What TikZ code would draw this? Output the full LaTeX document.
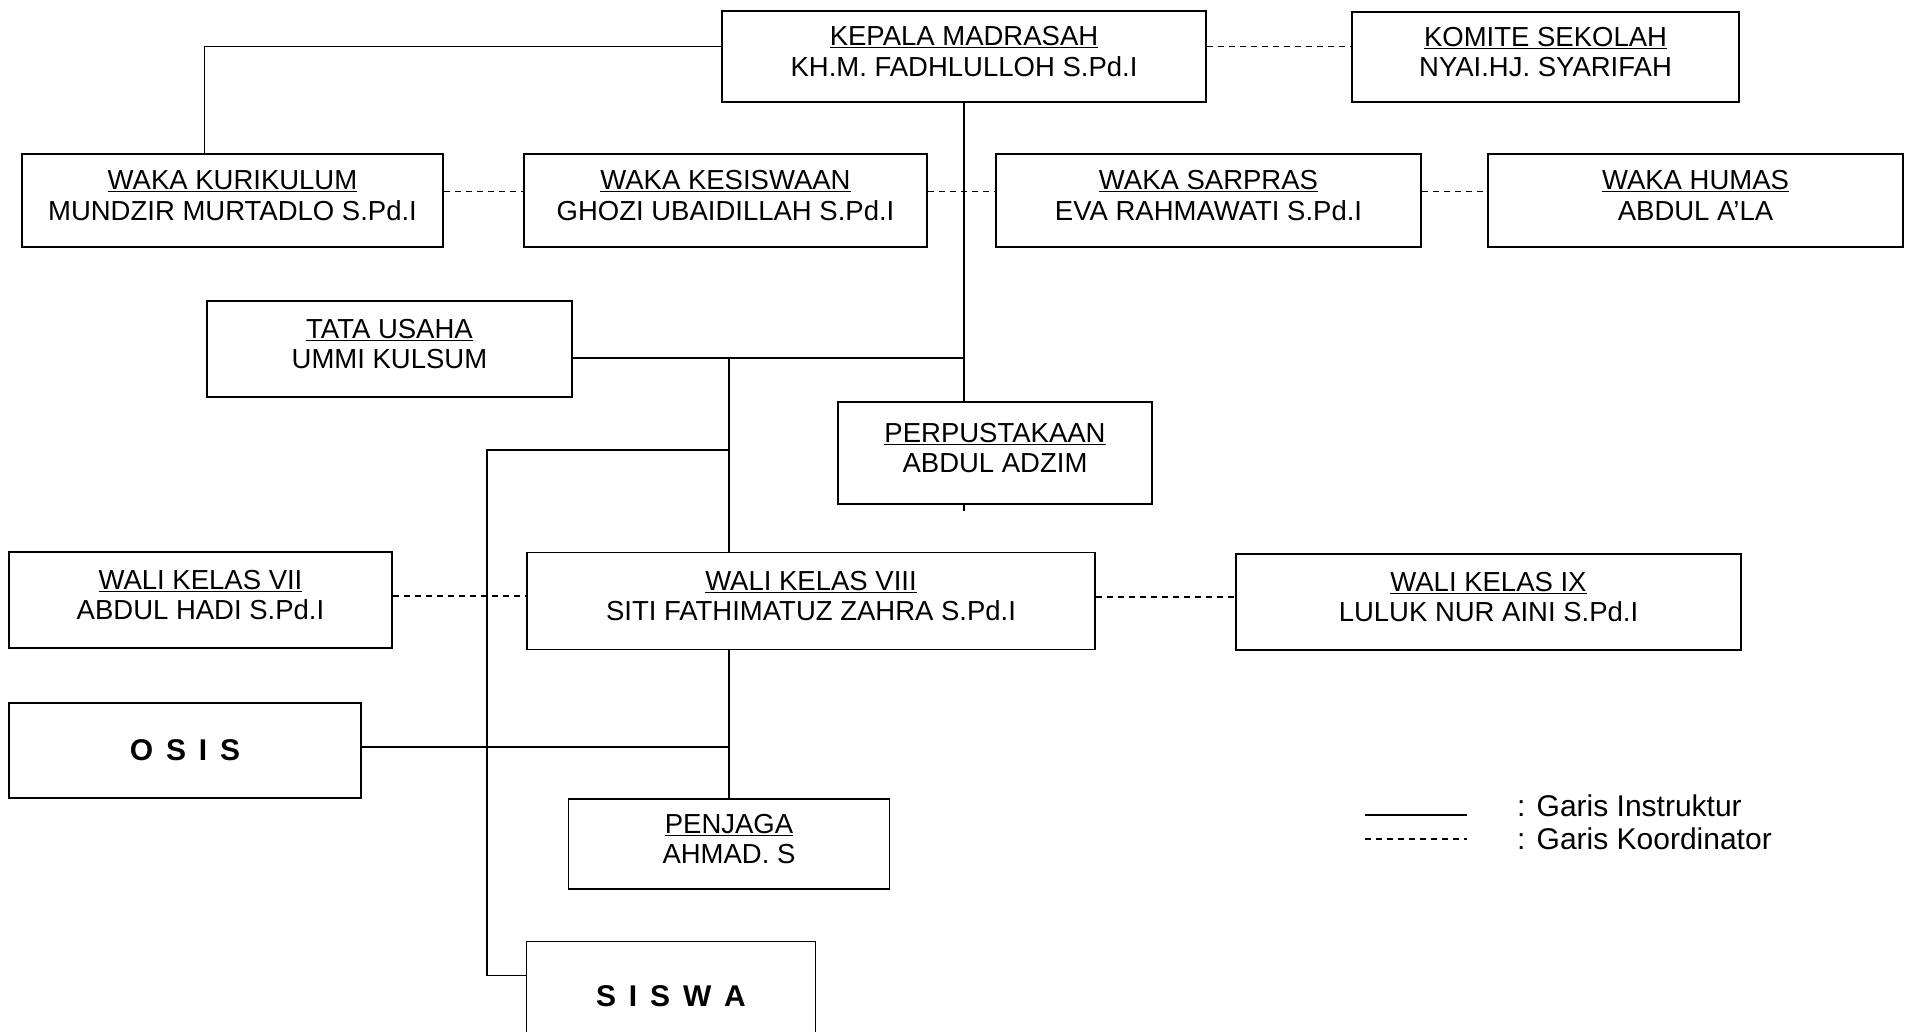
\documentclass[tikz,border=0pt]{standalone}
\usepackage{fontspec}
\setmainfont{Liberation Sans}
\newcommand{\jbt}[2]{\underline{#1}\\#2\rule[-10pt]{0pt}{10pt}}
\tikzset{
  kotak/.style={draw, line width=1.6pt, fill=white, align=center, inner sep=0pt,
    minimum height=93pt, font=\fontsize{27.5}{30.5}\selectfont},
  tebal/.style={kotak, font=\fontsize{30}{36}\selectfont\bfseries\addfontfeature{LetterSpace=15}},
  garis/.style={line width=1.3pt},
  putus/.style={line width=1.3pt, dash pattern=on 6pt off 5pt},
  ket/.style={anchor=base west, inner sep=0pt, font=\fontsize{30}{36}\selectfont}
}
\begin{document}
\begin{tikzpicture}[x=1pt,y=-1pt]
  \useasboundingbox (0,0) rectangle (1910,1032);
  \node[kotak, minimum width=484pt, minimum height=91pt] (kepala) at (964,56.5) {\jbt{KEPALA MADRASAH}{KH.M. FADHLULLOH S.Pd.I}};
  \node[kotak, minimum width=387pt, minimum height=90pt] (komite) at (1545.5,57) {\jbt{KOMITE SEKOLAH}{NYAI.HJ. SYARIFAH}};
  \node[kotak, minimum width=421pt] (kurikulum) at (232.5,200.5) {\jbt{WAKA KURIKULUM}{MUNDZIR MURTADLO S.Pd.I}};
  \node[kotak, minimum width=403pt] (kesiswaan) at (725.5,200.5) {\jbt{WAKA KESISWAAN}{GHOZI UBAIDILLAH S.Pd.I}};
  \node[kotak, minimum width=425pt] (sarpras) at (1208.5,200.5) {\jbt{WAKA SARPRAS}{EVA RAHMAWATI S.Pd.I}};
  \node[kotak, minimum width=415pt] (humas) at (1695.5,200.5) {\jbt{WAKA HUMAS}{ABDUL A’LA}};
  \node[kotak, minimum width=365pt, minimum height=96pt] (tu) at (389.5,349) {\jbt{TATA USAHA}{UMMI KULSUM}};
  \node[kotak, minimum width=314pt, minimum height=102pt] (perpus) at (995,453) {\jbt{PERPUSTAKAAN}{ABDUL ADZIM}};
  \node[kotak, minimum width=383pt, minimum height=96pt] (wali7) at (200.5,600) {\jbt{WALI KELAS VII}{ABDUL HADI S.Pd.I}};
  \node[kotak, minimum width=568pt, minimum height=97pt] (wali8) at (811,601) {\jbt{WALI KELAS VIII}{SITI FATHIMATUZ ZAHRA S.Pd.I}};
  \node[kotak, minimum width=505pt, minimum height=96pt] (wali9) at (1488.5,602) {\jbt{WALI KELAS IX}{LULUK NUR AINI S.Pd.I}};
  \node[tebal, minimum width=352pt, minimum height=95pt] (osis) at (185,750.5) {O S I S};
  \node[kotak, minimum width=321pt, minimum height=90pt] (penjaga) at (729,844) {\jbt{PENJAGA}{AHMAD. S}};
  \node[tebal, minimum width=289pt, minimum height=110pt] (siswa) at (671,996.5) {S I S W A};
  \coordinate (cabang) at (487,450);
  \coordinate (ins) at (1365,815);
  \coordinate (kor) at (1365,839);
  \begin{scope}[garis]
    \draw ([yshift=10pt]kepala.west) -| ([xshift=-28pt]kurikulum.north);
    \draw (kepala.south) -- (kepala.south |- perpus.north);
    \draw (kepala.south |- perpus.south) -- ++(0,6);
    \draw ([yshift=-9pt]tu.east) -- ([yshift=-9pt]tu.east -| kepala.south);
    \draw ([yshift=-9pt]tu.east -| penjaga.north) -- (penjaga.north |- wali8.north);
    \draw (penjaga.north |- wali8.south) -- (penjaga.north);
    \draw (cabang -| penjaga.north) -- (cabang) |- ([yshift=21pt]siswa.west);
    \draw ([yshift=3.5pt]osis.east) -- ([yshift=3.5pt]osis.east -| penjaga.north);
  \end{scope}
  \begin{scope}[putus]
    \draw ([yshift=10pt]kepala.east) -- ([yshift=10pt]kepala.east -| komite.west);
    \draw ([yshift=9pt]kurikulum.east) -- ([yshift=9pt]kurikulum.east -| kesiswaan.west);
    \draw ([yshift=9pt]kesiswaan.east) -- ([yshift=9pt]kesiswaan.east -| sarpras.west);
    \draw ([yshift=9pt]sarpras.east) -- ([yshift=9pt]sarpras.east -| humas.west);
    \draw ([yshift=4pt]wali7.east) -- ([yshift=4pt]wali7.east -| wali8.west);
    \draw ([yshift=4pt]wali8.east) -- ([yshift=4pt]wali8.east -| wali9.west);
  \end{scope}
  \draw[garis, line width=1.5pt] (ins) -- ++(102,0);
  \draw[putus] (kor) -- ++(102,0);
  \node[ket] (ketins) at (1517,816) {: Garis Instruktur};
  \node[ket] (ketkor) at (1517,849) {: Garis Koordinator};
\end{tikzpicture}
\end{document}
